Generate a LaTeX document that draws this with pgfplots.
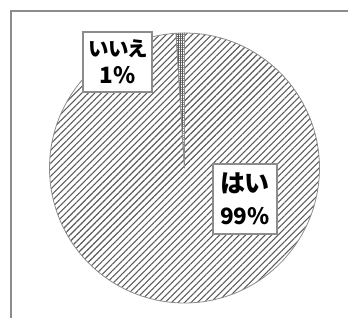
\documentclass[border=0pt]{standalone}
\usepackage{fontspec}
\setmainfont{Noto Sans CJK JP}[RawFeature=+palt]
\usepackage{pgfplots}
\usepackage{pgfplotstable}
\pgfplotsset{compat=1.18}
\usetikzlibrary{patterns.meta}
\definecolor{frame}{HTML}{8C8C8C}
\definecolor{hatch}{HTML}{5A5A5A}
\pgfplotstableread{
label value
hai 99
iie 1
}\piedata
\pgfplotstablegetelem{0}{value}\of\piedata \let\vhai\pgfplotsretval
\pgfplotstablegetelem{1}{value}\of\piedata \let\viie\pgfplotsretval
\pgfmathsetmacro{\aA}{90-3.6*\vhai}
\pgfmathsetmacro{\aB}{90+3.6*\viie}
\begin{document}
\begin{tikzpicture}[x=1bp,y=1bp]
\path[use as bounding box] (0,0) rectangle (348,318);
\begin{scope}
\clip (0,0) rectangle (348,318);
\draw[frame, line width=1.8bp] (11,-5) -- (11,307) -- (360,307);
\end{scope}
\begin{axis}[at={(184.5bp,150bp)}, anchor=origin,
  scale only axis, width=270bp, height=270bp,
  xmin=-1, xmax=1, ymin=-1, ymax=1, hide axis, clip=false]
\addplot[draw=frame, line width=0.8bp,
  pattern={Lines[angle=45,distance=4.6bp,line width=1.1bp]}, pattern color=hatch,
  domain=\aA:90, samples=240] ({cos(x)},{sin(x)}) -- (axis cs:0,0) -- cycle;
\addplot[draw=frame, line width=0.8bp,
  pattern={Hatch[angle=0,distance=2.2bp,line width=0.7bp]}, pattern color=hatch,
  domain=90:\aB, samples=10] ({cos(x)},{sin(x)}) -- (axis cs:0,0) -- cycle;
\node[draw=frame, line width=1.5bp, fill=white, align=center, inner sep=0pt,
  minimum width=69bp, minimum height=60bp,
  font=\bfseries\fontsize{22.5bp}{27bp}\selectfont]
  at (axis cs:-0.496,0.785)
  {{\fontsize{20.5bp}{27bp}\selectfont いいえ}\\1\%};
\node[draw=frame, line width=1.5bp, fill=white, align=center, inner sep=0pt,
  minimum width=64bp, minimum height=70bp,
  font=\bfseries\fontsize{22.5bp}{32bp}\selectfont]
  at (axis cs:0.448,-0.23)
  {{\fontsize{25bp}{32bp}\selectfont はい}\\99\%};
\end{axis}
\end{tikzpicture}
\end{document}
